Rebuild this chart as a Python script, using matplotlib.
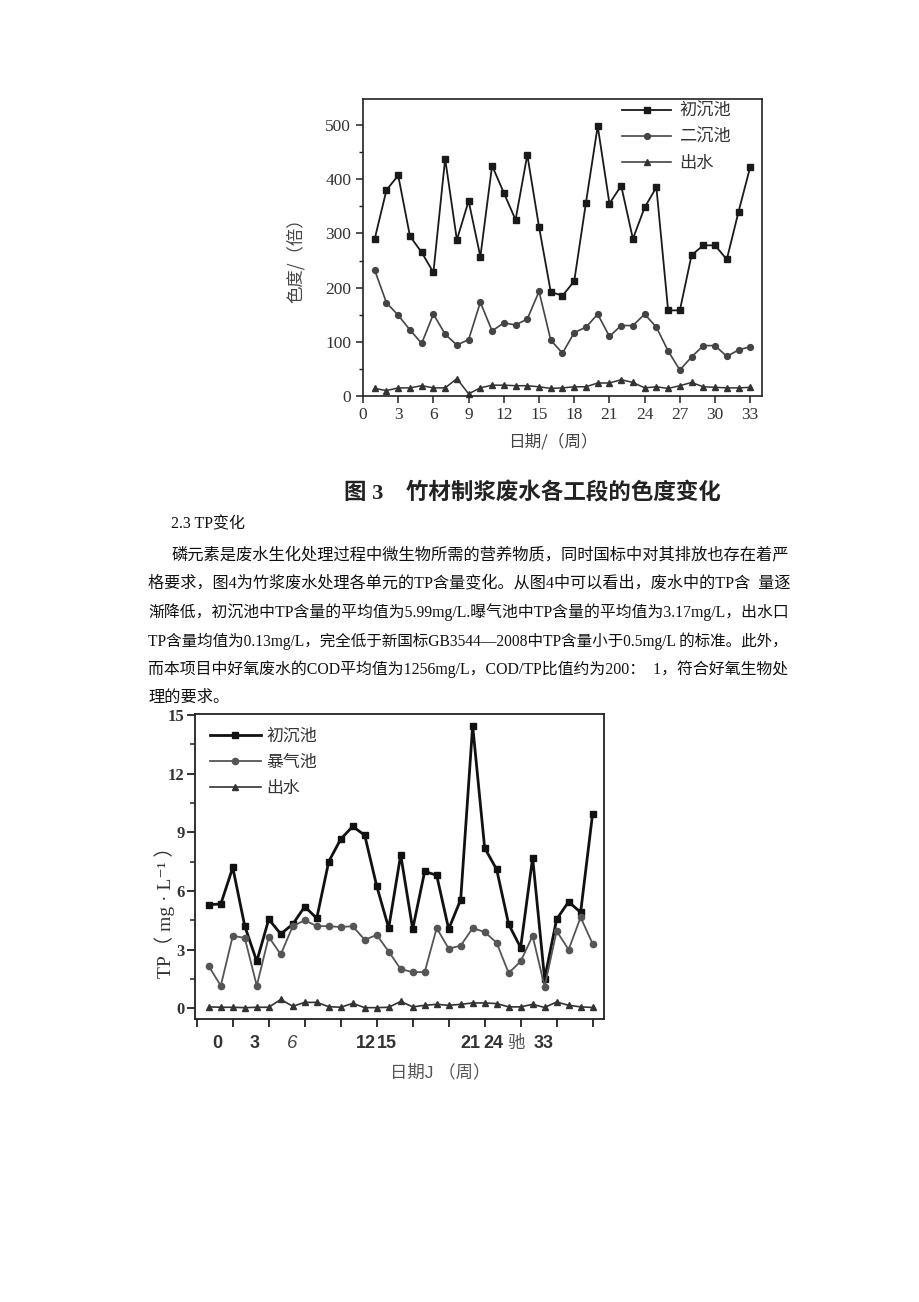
import matplotlib
matplotlib.use('Agg')
import matplotlib.pyplot as plt
from matplotlib.ticker import MultipleLocator
import matplotlib.transforms as mtransforms

plt.rcParams['font.family'] = ['Liberation Serif', 'Noto Sans CJK SC', 'DejaVu Sans']

# ---------------- data ----------------
weeks = list(range(1, 34))
# Figure 3: colour (chroma, times)
color_primary = [290, 380, 407, 295, 265, 228, 438, 288, 360, 257, 425, 375, 325, 445, 312, 192, 185,
                 212, 357, 498, 355, 388, 290, 348, 385, 158, 158, 260, 278, 278, 252, 340, 423]
color_secondary = [232, 172, 149, 122, 97, 151, 114, 94, 104, 173, 120, 135, 131, 142, 193, 103, 79,
                   117, 127, 151, 110, 130, 130, 151, 127, 83, 48, 72, 93, 93, 73, 85, 91]
color_effluent = [14, 10, 15, 15, 19, 15, 15, 32, 4, 15, 20, 20, 19, 19, 17, 14, 15,
                  17, 17, 24, 24, 30, 25, 15, 17, 14, 19, 25, 17, 16, 15, 15, 16]
color_series_names = ['初沉池', '二沉池', '出水']
color_xticks = list(range(0, 34, 3))
color_yticks = [0, 100, 200, 300, 400, 500]

# Figure 4: TP (mg/L)
tp_primary = [5.3, 5.33, 7.2, 4.2, 2.4, 4.55, 3.8, 4.3, 5.2, 4.6, 7.5, 8.65, 9.3, 8.85, 6.25, 4.1, 7.85,
              4.05, 7.0, 6.8, 4.05, 5.55, 14.45, 8.2, 7.1, 4.3, 3.1, 7.7, 1.5, 4.55, 5.45, 4.9, 9.95]
tp_aeration = [2.15, 1.15, 3.7, 3.6, 1.15, 3.65, 2.75, 4.2, 4.5, 4.2, 4.2, 4.15, 4.2, 3.5, 3.75, 2.9, 2.0,
               1.85, 1.85, 4.1, 3.05, 3.2, 4.1, 3.9, 3.35, 1.8, 2.4, 3.7, 1.1, 3.95, 3.0, 4.65, 3.3]
tp_effluent = [0.07, 0.05, 0.05, 0.03, 0.05, 0.05, 0.45, 0.1, 0.3, 0.3, 0.08, 0.05, 0.25, 0.03, 0.03, 0.05, 0.35,
               0.07, 0.15, 0.2, 0.15, 0.2, 0.27, 0.27, 0.24, 0.07, 0.07, 0.2, 0.04, 0.32, 0.15, 0.07, 0.04]
tp_series_names = ['初沉池', '暴气池', '出水']
tp_xticks = list(range(0, 34, 3))
tp_yticks = [0, 3, 6, 9, 12, 15]
tp_tick_labels = ['0', '3', '6', '12', '15', '21', '24', '驰', '33']

heading = '2.3 TP变化'
para_lines = [
    '磷元素是废水生化处理过程中微生物所需的营养物质，同时国标中对其排放也存在着严',
    '格要求，图4为竹浆废水处理各单元的TP含量变化。从图4中可以看出，废水中的TP含  量逐',
    '渐降低，初沉池中TP含量的平均值为5.99mg/L.曝气池中TP含量的平均值为3.17mg/L，出水口',
    'TP含量均值为0.13mg/L，完全低于新国标GB3544—2008中TP含量小于0.5mg/L 的标准。此外，',
    '而本项目中好氧废水的COD平均值为1256mg/L，COD/TP比值约为200：  1，符合好氧生物处',
    '理的要求。',
]
caption3 = '图 3    竹材制浆废水各工段的色度变化'

# ---------------- layout helpers ----------------
W, H = 920, 1302
fig = plt.figure(figsize=(W / 100, H / 100), dpi=100)
fig.patch.set_facecolor('white')


def fx(x):
    return x / W


def fy(y):
    return 1 - y / H


serif_cjk = ['Liberation Serif', 'Noto Sans CJK SC', 'DejaVu Sans']
cjk = ['Noto Sans CJK SC', 'DejaVu Sans']

# ---------------- Figure 3 ----------------
ax1 = fig.add_axes([fx(363), fy(396), fx(762) - fx(363), fy(99) - fy(396)])
ax1.plot(weeks, color_primary, color='#1a1a1a', lw=1.3, marker='s', ms=4.5, clip_on=False,
         label=color_series_names[0])
ax1.plot(weeks, color_secondary, color='#444444', lw=1.2, marker='o', ms=4.2, clip_on=False,
         label=color_series_names[1])
ax1.plot(weeks, color_effluent, color='#333333', lw=1.1, marker='^', ms=4.2, clip_on=False,
         label=color_series_names[2])
ax1.set_xlim(0, 34)
ax1.set_ylim(0, 548)
ax1.set_xticks(color_xticks)
ax1.set_yticks(color_yticks)
ax1.yaxis.set_minor_locator(MultipleLocator(50))
ax1.tick_params(axis='both', which='major', direction='out', length=5, width=1.1, colors='#222222',
                labelsize=12.5, labelcolor='#333333')
ax1.tick_params(axis='y', which='minor', direction='out', length=3, width=1.0, colors='#222222')
ax1.tick_params(axis='x', pad=3)
for lab in ax1.get_xticklabels() + ax1.get_yticklabels():
    lab.set_family(serif_cjk)
for s in ax1.spines.values():
    s.set_linewidth(1.2)
    s.set_color('#222222')
ax1.legend(loc='upper left', bbox_to_anchor=(fx(622), fy(102)), bbox_transform=fig.transFigure,
           frameon=False, prop={'family': cjk, 'size': 12.4}, handlelength=2.85, handletextpad=0.47,
           labelspacing=0.46, borderpad=0, borderaxespad=0, labelcolor='#333333')
fig.text(fx(296), fy(256), '色度/（倍）', rotation=90, ha='center', va='center',
         family=cjk, fontsize=12.5, color='#444444')
fig.text(fx(553), fy(442), '日期/（周）', ha='center', va='center', family=cjk, fontsize=12,
         color='#444444')
fig.text(fx(344), fy(493), caption3, ha='left', va='center', family=serif_cjk, fontsize=16.2,
         fontweight='bold', color='#222222')

# ---------------- paragraph (justified lines) ----------------
fig.text(fx(171), fy(524), heading, ha='left', va='center', family=serif_cjk, fontsize=11.5,
         color='#111111')
line_y = [555, 584, 612, 641, 669, 698]
line_x = [171, 148, 148, 148, 148, 148]
line_right = [790, 790, 790, 790, 790, None]
para_texts = []
for txt, x, y in zip(para_lines, line_x, line_y):
    para_texts.append(fig.text(fx(x), fy(y), txt, ha='left', va='center', family=serif_cjk,
                               fontsize=11.7, color='#111111'))
renderer = fig.canvas.get_renderer()
for t, x, r in zip(para_texts, line_x, line_right):
    if r is None:
        continue
    w = t.get_window_extent(renderer).width
    t.set_fontsize(11.7 * (r - x) / w)

# ---------------- Figure 4 ----------------
ax2 = fig.add_axes([fx(195), fy(1019), fx(604) - fx(195), fy(714) - fy(1019)])
ax2.plot(weeks, tp_primary, color='#111111', lw=2.0, marker='s', ms=5, clip_on=False,
         label=tp_series_names[0])
ax2.plot(weeks, tp_aeration, color='#555555', lw=1.3, marker='o', ms=4.5, clip_on=False,
         label=tp_series_names[1])
ax2.plot(weeks, tp_effluent, color='#333333', lw=1.2, marker='^', ms=4.5, clip_on=False,
         label=tp_series_names[2])
ax2.set_xlim(-0.15, 33.95)
ax2.set_ylim(-0.55, 15.05)
ax2.set_xticks(tp_xticks)
ax2.set_xticklabels([''] * len(tp_xticks))
ax2.set_yticks(tp_yticks)
ax2.yaxis.set_minor_locator(MultipleLocator(1.5))
ax2.tick_params(axis='both', which='major', direction='out', length=5.5, width=1.3, colors='#222222',
                labelsize=12, labelcolor='#333333')
ax2.tick_params(axis='y', which='major', pad=2)
ax2.tick_params(axis='y', which='minor', direction='out', length=3.5, width=1.1, colors='#222222')
for lab in ax2.get_yticklabels():
    lab.set_family(serif_cjk)
    lab.set_fontweight('bold')
for s in ax2.spines.values():
    s.set_linewidth(1.3)
    s.set_color('#222222')
ax2.legend(loc='upper left', bbox_to_anchor=(fx(210), fy(727)), bbox_transform=fig.transFigure,
           frameon=False, prop={'family': cjk, 'size': 12.2}, handlelength=3.0, handletextpad=0.3,
           labelspacing=0.48, borderpad=0, borderaxespad=0, labelcolor='#333333')

# garbled tick labels of the original scan
tick_label_x = [1.67, 4.8, 7.92, 14.1, 15.88, 22.78, 24.72, 26.65, 28.9]
trans = mtransforms.blended_transform_factory(ax2.transData, fig.transFigure)
for lab, xv in zip(tp_tick_labels, tick_label_x):
    if lab == '驰':
        kw = dict(family=cjk, fontsize=12.5, color='#555555')
    elif lab == '6':
        kw = dict(family=['Liberation Sans', 'DejaVu Sans'], fontsize=13.5, style='italic', color='#444444')
    else:
        kw = dict(family=['Liberation Sans', 'DejaVu Sans'], fontsize=13, fontweight='bold', color='#333333')
    ax2.text(xv, fy(1043), lab, transform=trans, ha='center', va='center', **kw)

fig.text(fx(165), fy(908), 'TP（ mg · L⁻¹ ）', rotation=90, ha='center', va='center',
         family=['Liberation Serif', 'DejaVu Serif', 'Noto Sans CJK SC'], fontsize=14, color='#333333')
fig.text(fx(440), fy(1072), '日期J （周）', ha='center', va='center', family=['Liberation Sans', 'Noto Sans CJK SC'],
         fontsize=12.5, color='#555555')

fig.savefig('out.png', dpi=100, facecolor='white')
